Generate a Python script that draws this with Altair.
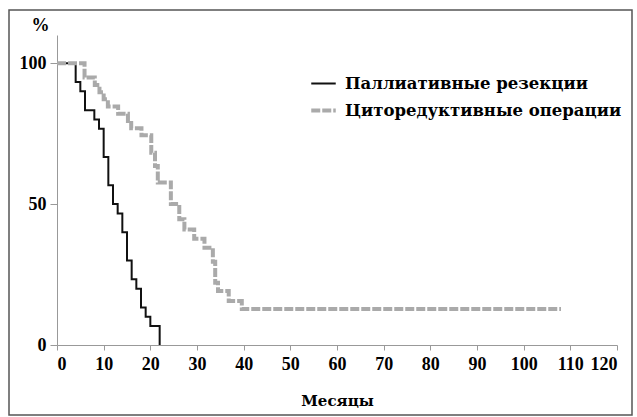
import altair as alt
import pandas as pd

# Series 1: palliative resections (black)
pal_t = [0, 4, 5, 6, 8, 9, 10, 11, 12, 13, 14, 15, 16, 17, 18, 19, 20, 22]
pal_v = [100, 93.3, 90, 83.3, 80, 76.7, 66.7, 56.7, 50, 46.7, 40, 30, 23.3, 20, 13.3, 10, 6.7, 0]

# Series 2: cytoreductive operations (gray dashed)
cyt_t = [0, 5.9, 8.1, 9.1, 10.0, 10.9, 13.1, 15.2, 15.9, 18.1, 20.2, 21.0, 21.6,
         24.4, 26.2, 27.3, 29.4, 31.6, 33.4, 33.9, 34.5, 36.8, 39.6, 108]
cyt_v = [100, 94.9, 92.3, 89.7, 87.2, 84.6, 82.1, 79.5, 76.9, 74.4, 68.2, 63.5, 57.7,
         50.0, 44.6, 41.0, 37.7, 34.5, 29.5, 22.1, 19.2, 15.6, 12.8, 12.8]

names = ["Паллиативные резекции", "Циторедуктивные операции"]

rows = [{"t": t, "v": v, "g": names[0]} for t, v in zip(pal_t, pal_v)] + \
       [{"t": t, "v": v, "g": names[1]} for t, v in zip(cyt_t, cyt_v)]
df = pd.DataFrame(rows)

FONT = "DejaVu Serif"
NUMFONT = "Liberation Serif"


def leg():
    return alt.Legend(title=None, orient="none", legendX=252, legendY=35,
                      symbolType="stroke", symbolSize=600,
                      labelFontSize=16.5, labelFont=FONT, labelLimit=400,
                      labelFontWeight="bold", labelColor="#000",
                      rowPadding=4, labelOffset=7)


lines = alt.Chart(df).mark_line(interpolate="step-after").encode(
    x=alt.X("t:Q", scale=alt.Scale(domain=[0, 120], nice=False),
            axis=alt.Axis(values=list(range(0, 121, 10)), title="Месяцы",
                          grid=False, tickSize=5, labelPadding=5,
                          titlePadding=20)),
    y=alt.Y("v:Q", scale=alt.Scale(domain=[0, 110], nice=False),
            axis=alt.Axis(values=[0, 50, 100], title="%", titleAngle=0,
                          titleX=-17, titleY=-10, titleAlign="center",
                          titleBaseline="middle", grid=False, tickSize=7,
                          labelPadding=4, titleFont=NUMFONT, titleFontSize=18)),
    color=alt.Color("g:N", scale=alt.Scale(domain=names, range=["#111111", "#aaaaaa"]),
                    legend=leg()),
    strokeDash=alt.StrokeDash("g:N", scale=alt.Scale(domain=names, range=[[1, 0], [9, 2]]),
                              legend=leg()),
    strokeWidth=alt.StrokeWidth("g:N", scale=alt.Scale(domain=names, range=[2, 4]),
                                legend=leg()),
)

frame = alt.Chart(pd.DataFrame({"a": [0]})).mark_rect(
    filled=False, stroke="#555555", strokeWidth=1.5
).encode(x=alt.value(-48), x2=alt.value(575), y=alt.value(-25), y2=alt.value(380))

chart = alt.layer(lines, frame).properties(
    width=560, height=310,
    background="white",
    autosize=alt.AutoSizeParams(type="none"),
    padding={"left": 57, "top": 35, "right": 20, "bottom": 72},
).configure_view(stroke=None).configure_axis(
    domainColor="#999999", tickColor="#999999",
    labelFont=NUMFONT, labelFontSize=18, labelFontWeight="bold", labelColor="#000",
    titleFont=FONT, titleFontSize=15, titleFontWeight="bold", titleColor="#000",
)

chart.save("out.html", embed_options={"renderer": "svg", "actions": False})
